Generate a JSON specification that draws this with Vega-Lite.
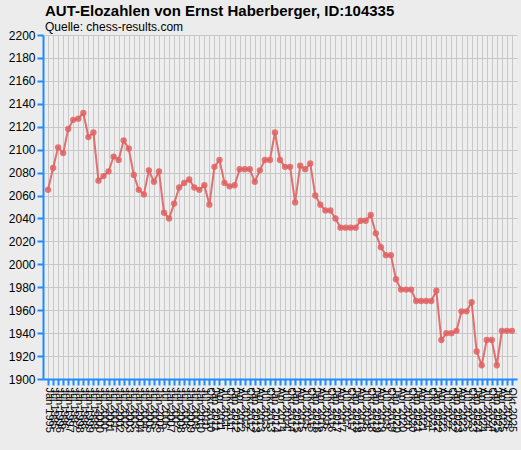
{
  "$schema": "https://vega.github.io/schema/vega-lite/v6.json",
  "autosize": "none",
  "width": 474,
  "height": 344,
  "padding": {"left": 43, "top": 35, "right": 4, "bottom": 71},
  "background": "#ececec",
  "title": {
    "text": "AUT-Elozahlen von Ernst Haberberger, ID:104335",
    "subtitle": "Quelle: chess-results.com",
    "anchor": "start",
    "frame": "group",
    "font": "Liberation Sans",
    "fontSize": 15,
    "fontWeight": "bold",
    "color": "black",
    "subtitleFont": "Liberation Sans",
    "subtitleFontSize": 12,
    "subtitleColor": "black",
    "subtitlePadding": 3,
    "offset": 3,
    "dx": 2,
    "dy": 7
  },
  "config": {
    "view": {"fill": "#eeeeee", "stroke": null},
    "axis": {
      "labelFont": "Liberation Sans",
      "labelColor": "black",
      "domainColor": "#1e8cff",
      "domainWidth": 2,
      "tickColor": "#1e8cff",
      "tickWidth": 2,
      "gridColor": "#c8c8c8",
      "gridWidth": 1,
      "gridOpacity": 1,
      "title": null
    }
  },
  "data": {
    "values": [
      {"d": "Jän 1995", "elo": 2065},
      {"d": "Jul 1995", "elo": 2084},
      {"d": "Jän 1996", "elo": 2102},
      {"d": "Jul 1996", "elo": 2097},
      {"d": "Jän 1997", "elo": 2118},
      {"d": "Jul 1997", "elo": 2126},
      {"d": "Jän 1998", "elo": 2127},
      {"d": "Jul 1998", "elo": 2132},
      {"d": "Jän 1999", "elo": 2111},
      {"d": "Jul 1999", "elo": 2115},
      {"d": "Jän 2000", "elo": 2073},
      {"d": "Jul 2000", "elo": 2077},
      {"d": "Jän 2001", "elo": 2081},
      {"d": "Jul 2001", "elo": 2094},
      {"d": "Jän 2002", "elo": 2091},
      {"d": "Jul 2002", "elo": 2108},
      {"d": "Jän 2003", "elo": 2101},
      {"d": "Jul 2003", "elo": 2078},
      {"d": "Jän 2004", "elo": 2065},
      {"d": "Jul 2004", "elo": 2061},
      {"d": "Jän 2005", "elo": 2082},
      {"d": "Jul 2005", "elo": 2072},
      {"d": "Jän 2006", "elo": 2081},
      {"d": "Jul 2006", "elo": 2045},
      {"d": "Jän 2007", "elo": 2040},
      {"d": "Jul 2007", "elo": 2053},
      {"d": "Jän 2008", "elo": 2067},
      {"d": "Jul 2008", "elo": 2071},
      {"d": "Jän 2009", "elo": 2074},
      {"d": "Jul 2009", "elo": 2067},
      {"d": "Jän 2010", "elo": 2065},
      {"d": "Jul 2010", "elo": 2069},
      {"d": "Okt 2010", "elo": 2052},
      {"d": "Jän 2011", "elo": 2085},
      {"d": "Apr 2011", "elo": 2091},
      {"d": "Jul 2011", "elo": 2071},
      {"d": "Okt 2011", "elo": 2068},
      {"d": "Jän 2012", "elo": 2069},
      {"d": "Apr 2012", "elo": 2083},
      {"d": "Jul 2012", "elo": 2083},
      {"d": "Okt 2012", "elo": 2083},
      {"d": "Jän 2013", "elo": 2072},
      {"d": "Apr 2013", "elo": 2082},
      {"d": "Jul 2013", "elo": 2091},
      {"d": "Okt 2013", "elo": 2091},
      {"d": "Jän 2014", "elo": 2115},
      {"d": "Apr 2014", "elo": 2091},
      {"d": "Jul 2014", "elo": 2085},
      {"d": "Okt 2014", "elo": 2085},
      {"d": "Jän 2015", "elo": 2054},
      {"d": "Apr 2015", "elo": 2086},
      {"d": "Jul 2015", "elo": 2083},
      {"d": "Okt 2015", "elo": 2088},
      {"d": "Jän 2016", "elo": 2060},
      {"d": "Apr 2016", "elo": 2052},
      {"d": "Jul 2016", "elo": 2047},
      {"d": "Okt 2016", "elo": 2047},
      {"d": "Jän 2017", "elo": 2040},
      {"d": "Apr 2017", "elo": 2032},
      {"d": "Jul 2017", "elo": 2032},
      {"d": "Okt 2017", "elo": 2032},
      {"d": "Jän 2018", "elo": 2032},
      {"d": "Apr 2018", "elo": 2038},
      {"d": "Jul 2018", "elo": 2038},
      {"d": "Okt 2018", "elo": 2043},
      {"d": "Jän 2019", "elo": 2027},
      {"d": "Apr 2019", "elo": 2015},
      {"d": "Jul 2019", "elo": 2008},
      {"d": "Okt 2019", "elo": 2008},
      {"d": "Jän 2020", "elo": 1987},
      {"d": "Apr 2020", "elo": 1978},
      {"d": "Jul 2020", "elo": 1978},
      {"d": "Okt 2020", "elo": 1978},
      {"d": "Jän 2021", "elo": 1968},
      {"d": "Apr 2021", "elo": 1968},
      {"d": "Jul 2021", "elo": 1968},
      {"d": "Okt 2021", "elo": 1968},
      {"d": "Jän 2022", "elo": 1977},
      {"d": "Apr 2022", "elo": 1934},
      {"d": "Jul 2022", "elo": 1940},
      {"d": "Okt 2022", "elo": 1940},
      {"d": "Jän 2023", "elo": 1942},
      {"d": "Apr 2023", "elo": 1959},
      {"d": "Jul 2023", "elo": 1959},
      {"d": "Okt 2023", "elo": 1967},
      {"d": "Jän 2024", "elo": 1924},
      {"d": "Apr 2024", "elo": 1912},
      {"d": "Jul 2024", "elo": 1934},
      {"d": "Okt 2024", "elo": 1934},
      {"d": "Jän 2025", "elo": 1912},
      {"d": "Apr 2025", "elo": 1942},
      {"d": "Jul 2025", "elo": 1942},
      {"d": "Okt 2025", "elo": 1942}
    ]
  },
  "mark": {
    "type": "line",
    "color": "#e06262",
    "strokeWidth": 2,
    "opacity": 0.9,
    "point": {"filled": true, "color": "#e06262", "size": 40, "opacity": 0.85}
  },
  "encoding": {
    "x": {
      "field": "d",
      "type": "ordinal",
      "sort": null,
      "scale": {"type": "point", "padding": 1.3},
      "axis": {
        "labelAngle": 90,
        "labelAlign": "left",
        "labelBaseline": "middle",
        "labelFontSize": 11,
        "labelOverlap": false,
        "labelPadding": 2,
        "tickSize": 6,
        "grid": true
      }
    },
    "y": {
      "field": "elo",
      "type": "quantitative",
      "scale": {"domain": [1900, 2200], "nice": false, "zero": false},
      "axis": {
        "values": [1900, 1920, 1940, 1960, 1980, 2000, 2020, 2040, 2060, 2080, 2100, 2120, 2140, 2160, 2180, 2200],
        "format": "d",
        "labelFontSize": 12,
        "labelPadding": 2,
        "tickSize": 6,
        "grid": true
      }
    }
  }
}
